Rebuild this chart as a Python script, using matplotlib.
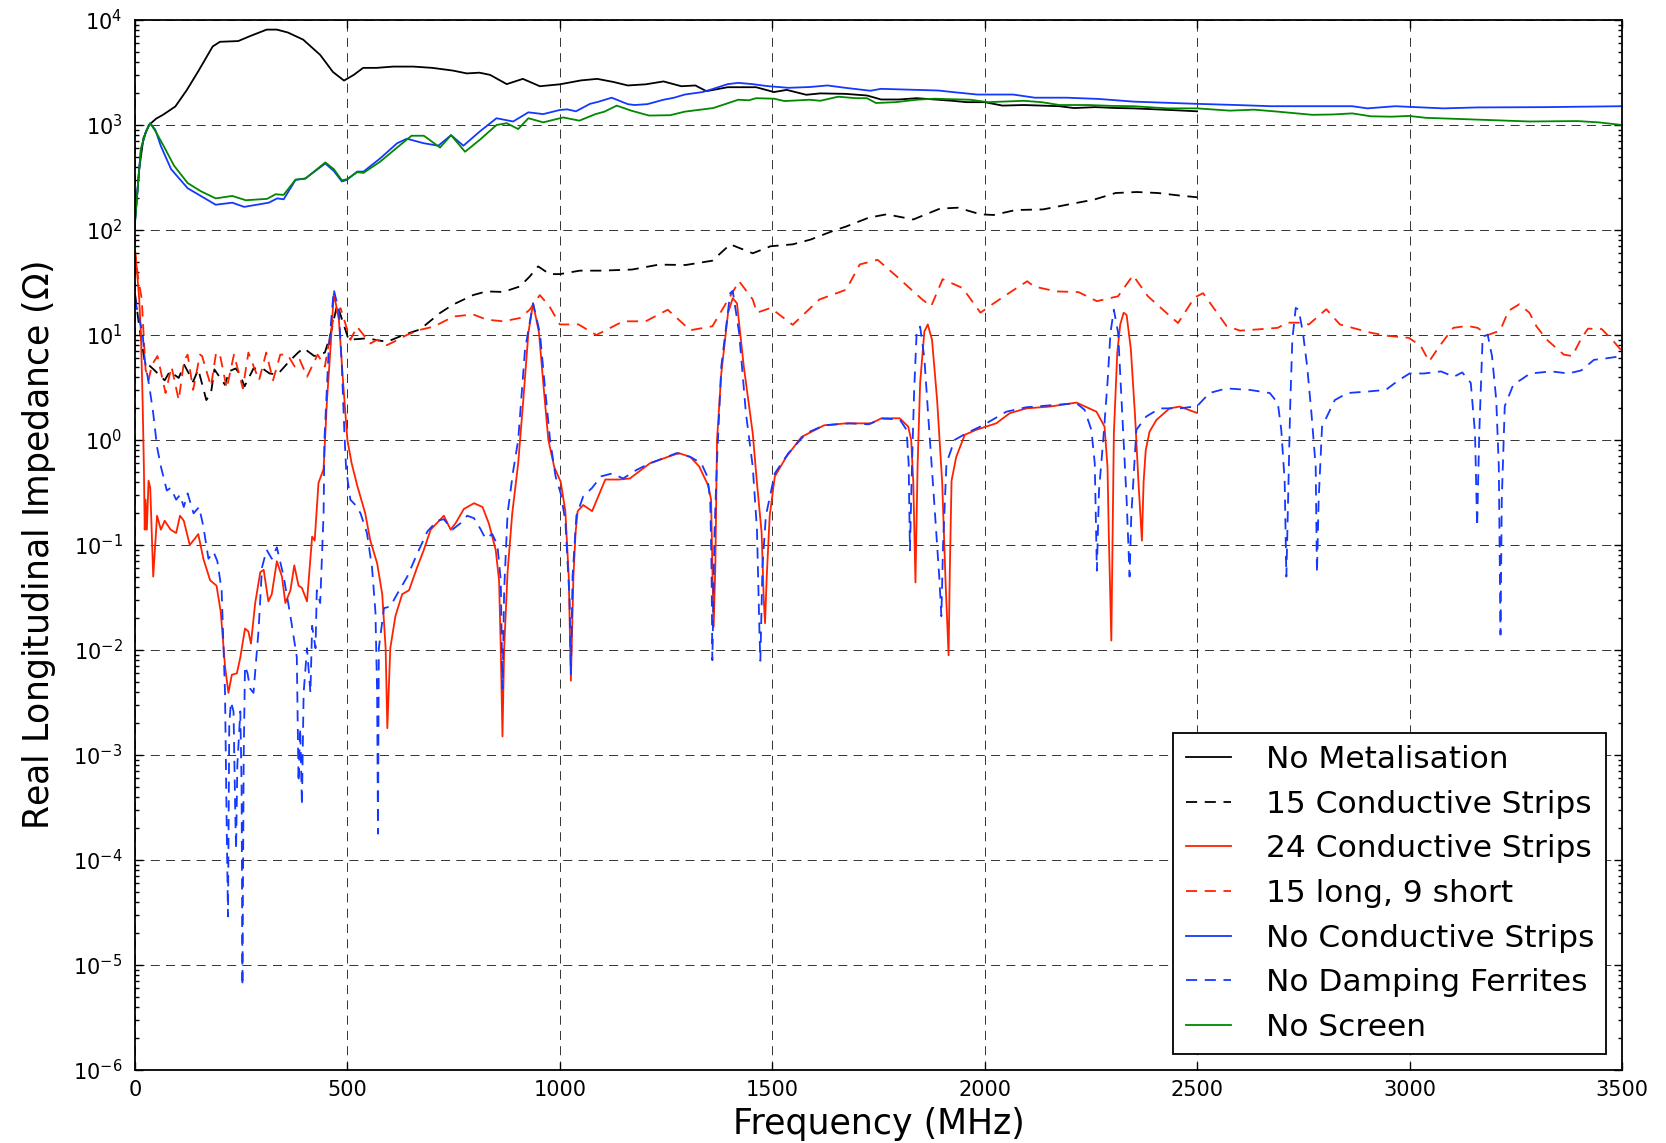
import numpy as np
import matplotlib
matplotlib.use("Agg")
import matplotlib.pyplot as plt
from matplotlib.ticker import LogLocator, NullFormatter

# (frequency MHz, real impedance Ohm)
no_metal = [(0, 120), (10, 380), (20, 750), (33, 1000), (50, 1150), (66, 1250), (95, 1500), (122, 2150),
            (150, 3300), (183, 5600), (200, 6200), (243, 6300), (270, 7000), (310, 8100), (334, 8100),
            (360, 7600), (396, 6500), (436, 4650), (466, 3200), (492, 2650), (515, 3000), (537, 3500),
            (568, 3500), (608, 3600), (655, 3600), (700, 3500), (748, 3300), (781, 3100), (811, 3150),
            (836, 3000), (875, 2450), (913, 2750), (953, 2340), (1000, 2440), (1050, 2660), (1088, 2750),
            (1126, 2570), (1160, 2380), (1202, 2440), (1244, 2600), (1286, 2340), (1319, 2380), (1345, 2100),
            (1395, 2290), (1462, 2290), (1504, 2060), (1534, 2160), (1580, 1940), (1613, 2000), (1672, 1980),
            (1723, 1910), (1756, 1750), (1798, 1750), (1840, 1800), (1882, 1750), (1924, 1700), (1958, 1650),
            (2000, 1650), (2042, 1530), (2092, 1550), (2134, 1530), (2176, 1510), (2210, 1450), (2260, 1480),
            (2311, 1450), (2350, 1440), (2420, 1400), (2500, 1350)]

strips_15 = [(0, 25), (10, 12), (23, 5.6), (44, 4.7), (70, 3.7), (82, 4.5), (103, 3.9), (116, 5.2), (137, 3.6),
             (149, 4.7), (168, 2.4), (179, 2.8), (187, 4.7), (212, 3.35), (221, 4.5), (237, 4.8), (246, 4.3),
             (258, 3.24), (279, 4.8), (300, 4.8), (317, 4.3), (334, 4.2), (342, 4.5), (363, 5.6), (384, 6.8),
             (397, 7.5), (422, 6.3), (447, 6.8), (460, 10), (476, 19.5), (503, 9.0), (546, 9.3), (593, 8.6),
             (632, 10), (671, 11.3), (718, 16.2), (749, 19.5), (796, 24), (827, 26), (867, 25.7), (906, 29),
             (929, 36), (949, 45), (976, 38), (1000, 38), (1047, 41), (1097, 41), (1170, 42), (1233, 46.8),
             (1296, 46.4), (1359, 51), (1401, 73), (1454, 60), (1496, 70), (1548, 73), (1590, 81), (1643, 98),
             (1674, 108), (1727, 131), (1769, 141), (1832, 126), (1895, 160), (1937, 163), (1990, 141),
             (2021, 139), (2073, 155), (2137, 157), (2200, 176), (2258, 195), (2308, 225), (2358, 230),
             (2408, 225), (2458, 213), (2500, 205)]

strips_24 = [(0, 63), (4.5, 42), (10, 22), (14, 10.5), (18, 2.4), (21, 0.56), (23, 0.14), (25, 0.27), (28, 0.14),
             (32, 0.41), (36, 0.35), (43, 0.05), (52, 0.19), (61, 0.14), (70, 0.17), (84, 0.14), (97, 0.13),
             (106, 0.19), (115, 0.17), (129, 0.1), (141, 0.115), (149, 0.127), (161, 0.074), (177, 0.046),
             (192, 0.041), (202, 0.023), (212, 0.007), (220, 0.0039), (228, 0.0058), (240, 0.006), (248, 0.0085),
             (259, 0.016), (267, 0.015), (273, 0.0115), (283, 0.028), (295, 0.055), (303, 0.058), (314, 0.029),
             (322, 0.034), (334, 0.07), (346, 0.05), (354, 0.028), (366, 0.037), (375, 0.064), (385, 0.041),
             (393, 0.039), (405, 0.029), (417, 0.12), (423, 0.11), (432, 0.39), (440, 0.48), (444, 0.53),
             (452, 2.4), (460, 7.2), (468, 25), (480, 14), (490, 3.5), (500, 1.0), (510, 0.6), (523, 0.37),
             (542, 0.2), (554, 0.11), (570, 0.067), (582, 0.034), (590, 0.0104), (594, 0.0018), (601, 0.0104),
             (613, 0.021), (629, 0.034), (645, 0.037), (664, 0.061), (680, 0.09), (696, 0.14), (711, 0.162),
             (727, 0.19), (743, 0.14), (755, 0.162), (774, 0.22), (798, 0.25), (818, 0.23), (833, 0.16),
             (849, 0.09), (857, 0.046), (861, 0.0104), (865, 0.0015), (869, 0.0104), (877, 0.055), (888, 0.2),
             (902, 0.6), (914, 2.4), (926, 10.5), (937, 20), (951, 10.5), (961, 3.5), (973, 1.0), (987, 0.55),
             (1002, 0.4), (1013, 0.21), (1021, 0.05), (1026, 0.0051), (1032, 0.05), (1037, 0.13), (1042, 0.21),
             (1055, 0.24), (1076, 0.21), (1107, 0.42), (1139, 0.42), (1165, 0.43), (1212, 0.6), (1254, 0.69),
             (1280, 0.75), (1307, 0.69), (1328, 0.56), (1349, 0.37), (1356, 0.27), (1359, 0.062), (1362, 0.0166),
             (1366, 0.062), (1370, 1.0), (1380, 4.3), (1396, 16.3), (1407, 22.4), (1417, 20), (1433, 5.0),
             (1454, 1.16), (1464, 0.39), (1475, 0.13), (1480, 0.03), (1483, 0.018), (1487, 0.05), (1494, 0.19),
             (1506, 0.45), (1533, 0.69), (1569, 1.07), (1622, 1.38), (1674, 1.44), (1733, 1.44), (1757, 1.61),
             (1800, 1.61), (1820, 1.34), (1827, 1.0), (1832, 0.39), (1837, 0.044), (1842, 0.56), (1848, 3.5),
             (1858, 10.8), (1866, 12.6), (1876, 9.0), (1888, 2.4), (1900, 0.39), (1908, 0.043), (1915, 0.0089),
             (1918, 0.06), (1922, 0.41), (1933, 0.69), (1953, 1.12), (1980, 1.25), (2027, 1.44), (2059, 1.8),
             (2098, 2.0), (2153, 2.08), (2216, 2.27), (2263, 1.86), (2282, 1.34), (2289, 0.56), (2292, 0.13),
             (2298, 0.0123), (2301, 0.13), (2304, 1.16), (2312, 6.8), (2319, 12.6), (2327, 16.3), (2334, 15.5),
             (2344, 7.3), (2354, 1.66), (2362, 0.39), (2370, 0.11), (2374, 0.4), (2379, 0.8), (2388, 1.2),
             (2404, 1.55), (2435, 2.0), (2459, 2.08), (2498, 1.82)]

long_short = [(0, 65), (7, 36), (16, 22), (21, 9.1), (25, 4.7), (32, 3.7), (40, 5.2), (53, 6.3), (72, 2.8),
              (86, 5.0), (103, 2.4), (116, 5.8), (124, 6.5), (137, 3.0), (153, 6.5), (158, 6.3), (179, 3.24),
              (191, 6.8), (200, 6.5), (216, 3.1), (233, 6.5), (254, 3.1), (267, 6.8), (292, 3.7), (309, 6.8),
              (325, 3.7), (342, 6.5), (359, 6.5), (376, 5.0), (388, 5.8), (405, 4.0), (430, 6.5), (447, 5.0),
              (455, 7.8), (468, 15), (484, 18), (507, 9.0), (523, 12), (530, 11), (554, 8.3), (570, 9.0),
              (593, 8.0), (609, 8.6), (640, 10), (671, 11.2), (703, 12), (750, 15), (796, 15.7), (828, 14),
              (867, 13.5), (906, 14.5), (929, 17.4), (953, 24), (976, 18.6), (1000, 12.6), (1044, 12.6),
              (1086, 10), (1149, 13.5), (1202, 13.5), (1254, 17.4), (1307, 11.1), (1359, 12.1), (1401, 23.4),
              (1422, 32.5), (1454, 21.8), (1464, 16.3), (1496, 18.1), (1548, 12.5), (1611, 21.8), (1674, 27),
              (1706, 47), (1748, 52), (1790, 37), (1853, 21.8), (1874, 18.8), (1901, 34), (1948, 28),
              (1990, 16.3), (2021, 20), (2063, 26), (2100, 32.5), (2116, 29), (2168, 26), (2221, 25.6),
              (2264, 21), (2314, 23.4), (2349, 37), (2384, 23.4), (2431, 15.8), (2455, 13), (2494, 22.8),
              (2514, 25), (2569, 12.2), (2601, 11), (2642, 11.3), (2690, 11.7), (2711, 13.1), (2747, 13.1),
              (2763, 12.6), (2804, 17.6), (2836, 12.6), (2909, 10.5), (2950, 9.8), (2998, 9.4), (3026, 7.9),
              (3046, 5.6), (3071, 7.9), (3103, 11.7), (3136, 12.2), (3160, 11.7), (3184, 10), (3213, 11),
              (3233, 17), (3258, 19.6), (3282, 16.3), (3298, 12.2), (3322, 9.1), (3363, 6.5), (3383, 6.3),
              (3403, 9.1), (3420, 11.5), (3452, 11.4), (3476, 9.1), (3500, 7.0)]

no_strips = [(0, 117), (8, 300), (14, 590), (26, 870), (36, 1040), (48, 900), (61, 630), (85, 380), (124, 250),
             (155, 211), (190, 174), (229, 182), (257, 166), (315, 182), (335, 200), (350, 196), (378, 300),
             (401, 310), (448, 430), (468, 365), (487, 290), (499, 300), (523, 360), (538, 360), (577, 480),
             (617, 670), (640, 740), (680, 670), (714, 635), (744, 800), (773, 635), (812, 870), (851, 1160),
             (890, 1080), (926, 1320), (961, 1270), (1000, 1390), (1017, 1410), (1038, 1350), (1071, 1590),
             (1092, 1670), (1122, 1820), (1160, 1580), (1176, 1550), (1206, 1580), (1244, 1740), (1269, 1820),
             (1294, 1950), (1336, 2060), (1361, 2210), (1395, 2450), (1420, 2520), (1454, 2450), (1487, 2350),
             (1538, 2260), (1588, 2300), (1630, 2380), (1672, 2260), (1731, 2120), (1756, 2210), (1840, 2160),
             (1891, 2130), (1924, 2060), (1983, 1950), (2067, 1950), (2118, 1820), (2193, 1820), (2269, 1770),
             (2350, 1670), (2500, 1590), (2593, 1550), (2674, 1510), (2865, 1510), (2901, 1440), (2966, 1510),
             (3079, 1440), (3160, 1470), (3322, 1480), (3500, 1510)]

no_ferrites = [(0, 22), (7, 16), (18, 10.5), (23, 5.8), (34, 3.2), (43, 1.8), (52, 0.86), (61, 0.56), (75, 0.33),
               (84, 0.35), (97, 0.27), (106, 0.3), (115, 0.23), (124, 0.31), (138, 0.2), (151, 0.23),
               (161, 0.15), (173, 0.074), (185, 0.086), (194, 0.07), (204, 0.037), (212, 0.0039), (216, 0.0002),
               (219, 0.000029), (222, 0.002), (226, 0.0032), (232, 0.0026), (236, 0.0003), (238, 0.000126),
               (241, 0.0008), (248, 0.0026), (251, 0.0005), (253, 0.0000063), (256, 0.001), (259, 0.007),
               (265, 0.006), (271, 0.0043), (279, 0.0039), (291, 0.0155), (299, 0.061), (310, 0.09),
               (322, 0.074), (334, 0.095), (350, 0.05), (366, 0.021), (381, 0.0085), (385, 0.00055),
               (389, 0.0018), (393, 0.00033), (397, 0.0039), (405, 0.0104), (413, 0.0039), (417, 0.017),
               (425, 0.0104), (428, 0.037), (436, 0.028), (440, 0.074), (444, 0.2), (446, 1.0), (456, 7.2),
               (468, 27), (480, 17), (487, 5.0), (493, 1.16), (497, 0.53), (507, 0.27), (519, 0.24), (531, 0.2),
               (546, 0.13), (558, 0.061), (566, 0.023), (570, 0.0039), (572, 0.000178), (574, 0.0104),
               (586, 0.025), (601, 0.026), (617, 0.034), (641, 0.05), (664, 0.082), (688, 0.134), (711, 0.17),
               (727, 0.176), (747, 0.14), (767, 0.162), (782, 0.19), (798, 0.18), (814, 0.14), (825, 0.115),
               (841, 0.127), (853, 0.1), (861, 0.046), (865, 0.0043), (869, 0.037), (877, 0.2), (890, 0.5),
               (902, 1.0), (918, 7.2), (937, 20), (953, 10.5), (964, 3.5), (977, 1.0), (990, 0.45), (1002, 0.31),
               (1013, 0.17), (1023, 0.03), (1026, 0.0059), (1030, 0.05), (1039, 0.19), (1055, 0.29),
               (1076, 0.35), (1097, 0.45), (1123, 0.48), (1149, 0.43), (1181, 0.52), (1212, 0.6), (1244, 0.67),
               (1275, 0.75), (1307, 0.69), (1333, 0.6), (1347, 0.45), (1354, 0.27), (1357, 0.062), (1359, 0.008),
               (1364, 0.13), (1370, 0.64), (1380, 5.0), (1401, 25), (1407, 26.3), (1422, 10.5), (1438, 1.8),
               (1454, 0.56), (1464, 0.14), (1470, 0.014), (1472, 0.0079), (1477, 0.063), (1485, 0.19),
               (1506, 0.48), (1538, 0.75), (1580, 1.16), (1622, 1.38), (1682, 1.44), (1727, 1.41), (1757, 1.6),
               (1800, 1.57), (1816, 1.25), (1821, 0.6), (1824, 0.089), (1829, 0.6), (1834, 3.0), (1840, 11),
               (1848, 12), (1858, 6.0), (1868, 1.5), (1880, 0.3), (1893, 0.05), (1898, 0.021), (1902, 0.1),
               (1910, 0.6), (1929, 1.0), (1957, 1.16), (1996, 1.38), (2051, 1.86), (2098, 2.05), (2169, 2.16),
               (2216, 2.24), (2235, 1.94), (2251, 1.25), (2259, 0.6), (2264, 0.057), (2269, 0.33), (2279, 1.0),
               (2289, 3.5), (2296, 10.5), (2304, 17.4), (2314, 10.5), (2324, 1.66), (2334, 0.27), (2341, 0.05),
               (2345, 0.19), (2357, 1.25), (2380, 1.67), (2412, 2.0), (2459, 2.0), (2500, 2.1), (2529, 2.8),
               (2569, 3.1), (2594, 3.05), (2624, 3.0), (2671, 2.8), (2690, 2.24), (2698, 1.25), (2706, 0.41),
               (2710, 0.05), (2714, 0.27), (2719, 2.1), (2724, 9.0), (2732, 18.1), (2739, 17.4), (2749, 10.5),
               (2759, 5.0), (2769, 1.8), (2779, 0.56), (2782, 0.054), (2786, 0.27), (2794, 1.34), (2824, 2.4),
               (2854, 2.8), (2904, 2.9), (2944, 3.0), (2974, 3.7), (3000, 4.3), (3034, 4.3), (3074, 4.5),
               (3104, 4.0), (3124, 4.4), (3144, 3.5), (3154, 1.16), (3159, 0.15), (3164, 1.16), (3172, 9.7),
               (3184, 10), (3194, 6.3), (3204, 2.4), (3210, 0.56), (3214, 0.014), (3217, 0.27), (3224, 2.1),
               (3244, 3.35), (3284, 4.3), (3334, 4.5), (3374, 4.3), (3404, 4.6), (3434, 5.8), (3464, 6.0),
               (3500, 6.3)]

no_screen = [(0, 117), (8, 300), (14, 590), (26, 870), (36, 1040), (50, 850), (69, 615), (92, 410), (124, 280),
             (155, 234), (190, 200), (229, 211), (261, 192), (311, 198), (331, 219), (350, 216), (378, 302),
             (401, 308), (448, 440), (468, 380), (487, 297), (499, 305), (523, 355), (538, 350), (577, 447),
             (617, 610), (651, 790), (680, 790), (718, 610), (744, 800), (777, 556), (812, 725), (851, 1000),
             (875, 1040), (902, 915), (926, 1160), (961, 1060), (1008, 1180), (1046, 1100), (1084, 1270),
             (1105, 1340), (1134, 1530), (1168, 1370), (1210, 1230), (1260, 1240), (1294, 1340), (1361, 1450),
             (1420, 1740), (1445, 1720), (1462, 1800), (1504, 1780), (1529, 1690), (1588, 1740), (1613, 1700),
             (1655, 1860), (1697, 1800), (1723, 1800), (1744, 1620), (1790, 1650), (1840, 1740), (1882, 1780),
             (1966, 1740), (2008, 1650), (2092, 1700), (2134, 1650), (2176, 1550), (2244, 1550), (2300, 1520),
             (2350, 1510), (2431, 1440), (2500, 1440), (2577, 1370), (2634, 1400), (2690, 1340), (2771, 1250),
             (2820, 1260), (2865, 1290), (2909, 1210), (2958, 1200), (2998, 1220), (3039, 1170), (3120, 1140),
             (3201, 1110), (3282, 1080), (3395, 1090), (3444, 1060), (3500, 1000)]

labels = ["No Metalisation", "15 Conductive Strips", "24 Conductive Strips", "15 long, 9 short",
          "No Conductive Strips", "No Damping Ferrites", "No Screen"]

plt.rcParams['axes.unicode_minus'] = False
plt.rcParams['lines.scale_dashes'] = False

RED = '#ff2200'
BLUE = '#1438ff'
GREEN = '#008800'
DASH = (0, (8, 5.5))

fig = plt.figure(figsize=(16.66, 11.43), dpi=100)
ax = fig.add_axes([0.081, 0.0639, 0.8926, 0.9186])

series = [no_metal, strips_15, strips_24, long_short, no_strips, no_ferrites, no_screen]
colors = ['k', 'k', RED, RED, BLUE, BLUE, GREEN]
styles = ['-', DASH, '-', DASH, '-', DASH, '-']
for data, col, ls, lab in zip(series, colors, styles, labels):
    f, z = zip(*data)
    ax.plot(f, z, color=col, linestyle=ls, linewidth=1.3, label=lab)

ax.set_yscale('log')
ax.set_xlim(0, 3500)
ax.set_ylim(1e-6, 1e4)
ax.set_xticks(np.arange(0, 3501, 500))
ax.set_yticks([10.0 ** k for k in range(-6, 5)])
ax.yaxis.set_minor_locator(LogLocator(base=10, subs=np.arange(2, 10), numticks=100))
ax.yaxis.set_minor_formatter(NullFormatter())

ax.grid(True, which='major', color='k', linestyle=(0, (6.5, 4.5)), linewidth=0.7, alpha=0.8)
ax.tick_params(which='both', direction='in', top=True, right=True, width=1)
ax.tick_params(which='major', length=6, labelsize=15)
ax.tick_params(axis='x', pad=7)
ax.tick_params(axis='y', pad=9)
ax.tick_params(which='minor', length=3)
for sp in ax.spines.values():
    sp.set_linewidth(1.3)

ax.set_xlabel('Frequency (MHz)', fontsize=25, labelpad=5)
ax.set_ylabel('Real Longitudinal Impedance ($\\Omega$)', fontsize=25, labelpad=11)

lgd = ax.legend(loc='lower right', fontsize=22.5, fancybox=False, framealpha=1, edgecolor='k',
                handlelength=1.45, handletextpad=1.1, borderpad=0.4, labelspacing=0.5,
                borderaxespad=0.5)
lgd.get_frame().set_linewidth(1.3)

fig.savefig('out.png', dpi=100, facecolor='white')
